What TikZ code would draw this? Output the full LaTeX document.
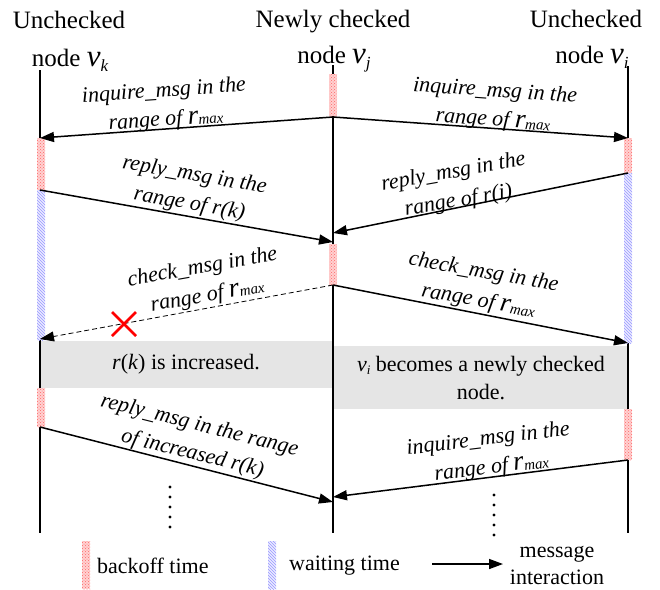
\documentclass[tikz,border=0pt]{standalone}
\usepackage{fontspec}
\setmainfont{Liberation Serif}
\usetikzlibrary{arrows.meta,patterns}
\newcommand{\rmaxlbl}{{\fontsize{27}{27}\selectfont\itshape r}\raisebox{-1pt}{\fontsize{15}{15}\selectfont\itshape max}}
\newcommand{\bigv}[1]{{\fontsize{31}{31}\selectfont\itshape v}\raisebox{-5pt}{\fontsize{17}{17}\selectfont\itshape #1}}
\begin{document}
\begin{tikzpicture}[x=1pt,y=-1pt,
  lifeline/.style={line width=2pt},
  msg/.style={line width=1.5pt,-{Triangle[length=14pt,width=10pt]}},
  lostmsg/.style={line width=0.8pt,dashed,dash pattern=on 5pt off 3pt,-{Triangle[length=14pt,width=10pt]}},
  backoff/.style={pattern=crosshatch dots,pattern color=red!60},
  backofffill/.style={fill=red!18},
  waiting/.style={pattern=north west lines,pattern color=blue!40},
  waitingfill/.style={fill=blue!8},
  grayband/.style={fill=black!10,draw=none},
  lbl/.style={font=\fontsize{22}{29}\selectfont\itshape,align=center,inner sep=0pt},
  head/.style={font=\fontsize{25}{25}\selectfont,inner sep=0pt,anchor=base},
  body/.style={font=\fontsize{22}{28}\selectfont,align=center,inner sep=0pt},
]
\useasboundingbox (0,0) rectangle (660,589);

% headers
\node[head] (hk1) at (69,28) {Unchecked};
\node[head] (hk2) at (70,66) {node \bigv{k}};
\node[head] (hj1) at (333,27) {Newly checked};
\node[head] (hj2) at (334,63) {node \bigv{j}};
\node[head] (hi1) at (586,27) {Unchecked};
\node[head] (hi2) at (592,63) {node \bigv{i}};

% gray bands
\fill[grayband] (40,341) rectangle (333,388);
\fill[grayband] (333,346) rectangle (628,409);

% lifelines
\coordinate (ktop) at (40,70);
\coordinate (kbot) at (40,533);
\coordinate (jtop) at (333,65);
\coordinate (jbot) at (333,533);
\coordinate (itop) at (628,66);
\coordinate (ibot) at (628,533);
\draw[lifeline] (ktop) -- (kbot);
\draw[lifeline] (jtop) -- (jbot);
\draw[lifeline] (itop) -- (ibot);

% timing bars
\foreach \xa/\ya/\yb in {37/138/190, 329/74/116, 329/244/285, 624/138/173, 37/388/427, 624/409/460, 82/541/589}{
  \fill[backofffill] (\xa,\ya) rectangle ++(8,\yb-\ya);
  \fill[backoff] (\xa,\ya) rectangle ++(8,\yb-\ya);
}
\foreach \xa/\ya/\yb in {37/190/340, 624/173/343, 268/541/589}{
  \fill[waitingfill] (\xa,\ya) rectangle ++(8,\yb-\ya);
  \fill[waiting] (\xa,\ya) rectangle ++(8,\yb-\ya);
}

% message end points
\coordinate (j1) at (333,117);
\coordinate (k1) at (40,138);
\coordinate (i1) at (628,138);
\coordinate (k2) at (40,190);
\coordinate (j2a) at (333,242);
\coordinate (i2) at (628,173);
\coordinate (j2b) at (333,233);
\coordinate (j3) at (333,285);
\coordinate (k3) at (40,339);
\coordinate (i3) at (628,343);
\coordinate (k4) at (40,427);
\coordinate (j4a) at (333,502);
\coordinate (i4) at (628,460);
\coordinate (j4b) at (333,497);

\draw[msg] (j1) -- (k1);
\draw[msg] (j1) -- (i1);
\draw[msg] (k2) -- (j2a);
\draw[msg] (i2) -- (j2b);
\draw[lostmsg] (j3) -- (k3);
\draw[msg] (j3) -- (i3);
\draw[msg] (k4) -- (j4a);
\draw[msg] (i4) -- (j4b);

% lost mark
\coordinate (xm) at (124,324);
\draw[red,line width=2.6pt] ([shift={(-12,-12)}]xm) -- ([shift={(12,12)}]xm);
\draw[red,line width=2.6pt] ([shift={(-12,12)}]xm) -- ([shift={(12,-12)}]xm);

% message labels
\node[lbl,rotate=4] (l1) at (165,106) {inquire\_msg in the\\range of \rmaxlbl};
\node[lbl,rotate=-4] (r1) at (494,106) {inquire\_msg in the\\range of \rmaxlbl};
\node[lbl,rotate=-10] (l2) at (192,190) {reply\_msg in the\\range of r(k)};
\node[lbl,rotate=10] (r2) at (456,187) {reply\_msg in the\\range of r(i)};
\node[lbl,rotate=10] (l3) at (205,282) {check\_msg in the\\range of \rmaxlbl};
\node[lbl,rotate=-10] (r3) at (481,287) {check\_msg in the\\range of \rmaxlbl};
\node[lbl,rotate=-14] (l4) at (196,440) {reply\_msg in the range\\of increased r(k)};
\node[lbl,rotate=7] (r4) at (490,454) {inquire\_msg in the\\range of \rmaxlbl};

% band texts
\node[body] (bk) at (186,364) {\textit{r}(\textit{k}) is increased.};
\node[body] (bi) at (481,378) {\textit{v}\raisebox{-3pt}{\fontsize{13}{13}\selectfont\itshape i} becomes a newly checked\\node.};

% dots
\foreach \yy in {487,497,507,517,527} \fill (170,\yy) circle (1.6);
\foreach \yy in {495,505,515,525,535} \fill (494,\yy) circle (1.6);

% legend
\node[body,anchor=west] (lb) at (97,566) {backoff time};
\node[body,anchor=west] (lw) at (289,566) {waiting time};
\coordinate (la1) at (432,564);
\coordinate (la2) at (503,564);
\draw[msg] (la1) -- (la2);
\node[body,font=\fontsize{22}{27}\selectfont] (lm) at (557,565) {message\\interaction};
\end{tikzpicture}
\end{document}
